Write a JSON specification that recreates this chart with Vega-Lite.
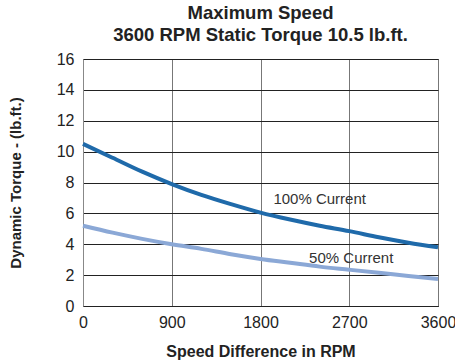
{
  "$schema": "https://vega.github.io/schema/vega-lite/v6.json",
  "autosize": {"type": "none"},
  "width": 355,
  "height": 247,
  "padding": {"left": 83, "top": 59, "right": 17, "bottom": 56},
  "background": "white",
  "config": {
    "font": "Liberation Sans",
    "view": {"stroke": "#333", "strokeWidth": 1}
  },
  "title": {
    "text": ["Maximum Speed", "3600 RPM Static Torque 10.5 lb.ft."],
    "font": "Liberation Sans",
    "fontSize": 18.5,
    "fontWeight": "bold",
    "color": "#222",
    "lineHeight": 22,
    "offset": 7,
    "anchor": "middle"
  },
  "datasets": {
    "curves": [
      {"rpm": 0, "torque": 10.5, "series": "100%"},
      {"rpm": 300, "torque": 9.6, "series": "100%"},
      {"rpm": 600, "torque": 8.7, "series": "100%"},
      {"rpm": 900, "torque": 7.9, "series": "100%"},
      {"rpm": 1200, "torque": 7.2, "series": "100%"},
      {"rpm": 1500, "torque": 6.6, "series": "100%"},
      {"rpm": 1800, "torque": 6.05, "series": "100%"},
      {"rpm": 2100, "torque": 5.6, "series": "100%"},
      {"rpm": 2400, "torque": 5.2, "series": "100%"},
      {"rpm": 2700, "torque": 4.85, "series": "100%"},
      {"rpm": 3000, "torque": 4.45, "series": "100%"},
      {"rpm": 3300, "torque": 4.1, "series": "100%"},
      {"rpm": 3600, "torque": 3.8, "series": "100%"},
      {"rpm": 0, "torque": 5.2, "series": "50%"},
      {"rpm": 300, "torque": 4.75, "series": "50%"},
      {"rpm": 600, "torque": 4.35, "series": "50%"},
      {"rpm": 900, "torque": 4.0, "series": "50%"},
      {"rpm": 1200, "torque": 3.7, "series": "50%"},
      {"rpm": 1500, "torque": 3.35, "series": "50%"},
      {"rpm": 1800, "torque": 3.05, "series": "50%"},
      {"rpm": 2100, "torque": 2.8, "series": "50%"},
      {"rpm": 2400, "torque": 2.55, "series": "50%"},
      {"rpm": 2700, "torque": 2.35, "series": "50%"},
      {"rpm": 3000, "torque": 2.15, "series": "50%"},
      {"rpm": 3300, "torque": 1.95, "series": "50%"},
      {"rpm": 3600, "torque": 1.75, "series": "50%"}
    ],
    "labels": [
      {"rpm": 2400, "torque": 6.9, "label": "100% Current"},
      {"rpm": 2720, "torque": 3.1, "label": "50% Current"}
    ]
  },
  "encoding": {
    "x": {
      "field": "rpm", "type": "quantitative",
      "scale": {"domain": [0, 3600], "nice": false},
      "axis": {
        "values": [0, 900, 1800, 2700, 3600],
        "format": "d",
        "labelOverlap": false,
        "title": "Speed Difference in RPM",
        "titleFont": "Liberation Sans",
        "titleFontSize": 16,
        "titleFontWeight": "bold",
        "titleColor": "#222",
        "titlePadding": 13,
        "labelFontSize": 16,
        "labelColor": "#222",
        "labelPadding": 8,
        "labelFlush": false,
        "ticks": false,
        "domainColor": "#222",
        "grid": true,
        "gridColor": "#777",
        "gridWidth": 1
      }
    },
    "y": {
      "field": "torque", "type": "quantitative",
      "scale": {"domain": [0, 16], "nice": false},
      "axis": {
        "values": [0, 2, 4, 6, 8, 10, 12, 14, 16],
        "labelOverlap": false,
        "title": "Dynamic Torque - (lb.ft.)",
        "titleFont": "Liberation Sans",
        "titleFontSize": 15,
        "titleFontWeight": "bold",
        "titleColor": "#222",
        "titlePadding": 33,
        "labelFontSize": 16,
        "labelColor": "#222",
        "labelPadding": 9,
        "ticks": false,
        "domainColor": "#888",
        "grid": true,
        "gridColor": "#222",
        "gridWidth": 1.2
      }
    }
  },
  "layer": [
    {
      "data": {"name": "curves"},
      "mark": {"type": "line", "strokeWidth": 4, "interpolate": "monotone"},
      "encoding": {
        "color": {
          "field": "series", "type": "nominal",
          "scale": {"domain": ["100%", "50%"], "range": ["#1f6aaa", "#8ba8d6"]},
          "legend": null
        }
      }
    },
    {
      "data": {"name": "labels"},
      "mark": {"type": "text", "fontSize": 15, "color": "#333", "align": "center", "baseline": "middle", "font": "Liberation Sans"},
      "encoding": {
        "text": {"field": "label"}
      }
    }
  ]
}
